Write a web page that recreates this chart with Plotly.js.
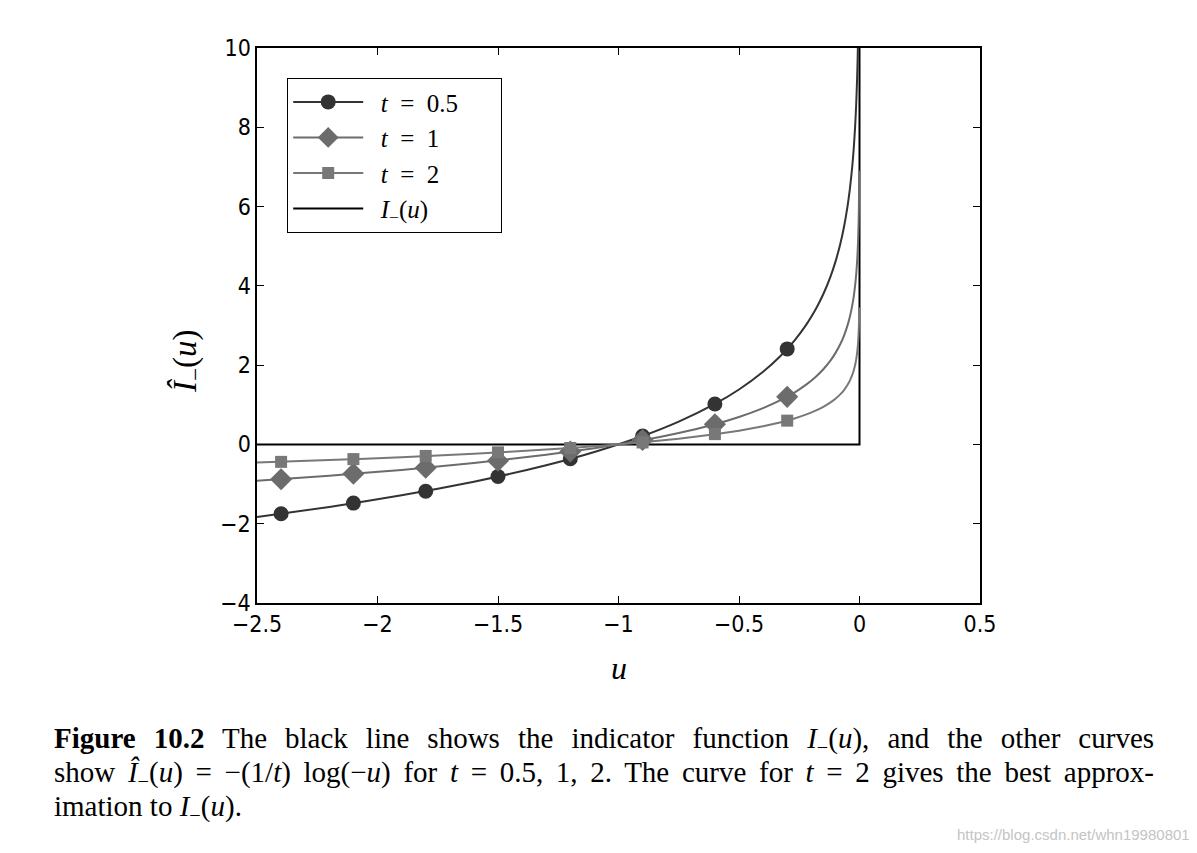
<!DOCTYPE html>
<html>
<head>
<meta charset="utf-8">
<script src="https://cdn.plot.ly/plotly-3.0.1.min.js"></script>
<style>
  html, body { margin: 0; padding: 0; background: #fff; }
  #graph { width: 1197px; height: 853px; }
</style>
</head>
<body>
<div id="graph"></div>
<script>
// sample points along the curves
const uLine = [-2.5, -2.2, -1.9, -1.6, -1.3, -1.1, -0.9, -0.75, -0.6, -0.5, -0.4, -0.33, -0.27, -0.22, -0.18, -0.15, -0.12, -0.1, -0.08, -0.065, -0.05, -0.04, -0.03, -0.024, -0.018, -0.014, -0.01, -0.0075, -0.0055, -0.004, -0.003, -0.002, -0.0015, -0.001];
const lineT05 = [-1.833, -1.577, -1.284, -0.940, -0.525, -0.191, 0.211, 0.575, 1.022, 1.386, 1.833, 2.217, 2.619, 3.028, 3.430, 3.794, 4.241, 4.605, 5.051, 5.466, 5.991, 6.438, 7.013, 7.459, 8.034, 8.537, 9.210, 9.786, 10.405, 11.043, 11.618, 12.429, 13.005, 13.816];
const lineT1 = [-0.916, -0.788, -0.642, -0.470, -0.262, -0.095, 0.105, 0.288, 0.511, 0.693, 0.916, 1.109, 1.309, 1.514, 1.715, 1.897, 2.120, 2.303, 2.526, 2.733, 2.996, 3.219, 3.507, 3.730, 4.017, 4.269, 4.605, 4.893, 5.203, 5.521, 5.809, 6.215, 6.502, 6.908];
const lineT2 = [-0.458, -0.394, -0.321, -0.235, -0.131, -0.048, 0.053, 0.144, 0.255, 0.347, 0.458, 0.554, 0.655, 0.757, 0.857, 0.949, 1.060, 1.151, 1.263, 1.366, 1.498, 1.609, 1.753, 1.865, 2.008, 2.134, 2.303, 2.446, 2.601, 2.760, 2.904, 3.107, 3.251, 3.454];

// marker positions
const uMark = [-2.4, -2.1, -1.8, -1.5, -1.2, -0.9, -0.6, -0.3];
const markT05 = [-1.75, -1.48, -1.18, -0.81, -0.36, 0.21, 1.02, 2.41];
const markT1 = [-0.88, -0.74, -0.59, -0.41, -0.18, 0.11, 0.51, 1.20];
const markT2 = [-0.44, -0.37, -0.29, -0.20, -0.09, 0.05, 0.26, 0.60];

// indicator function I_(u)
const iuX = [-2.5, 0, 0];
const iuY = [0, 0, 10];

const seriesNames = ['\u2002<i>t</i>\u2002=\u20020.5\u2003\u2002', '\u2002<i>t</i>\u2002=\u20021', '\u2002<i>t</i>\u2002=\u20022', '\u2002<i>I</i><sub>−</sub>(<i>u</i>)'];

const serif = '"Liberation Serif", "DejaVu Serif", serif';
const sans = '"DejaVu Sans Condensed", "Liberation Sans Narrow", Roboto, "Liberation Sans", sans-serif';

const series = [
  {line: lineT05, mark: markT05, color: '#333333', symbol: 'circle', size: 15},
  {line: lineT1, mark: markT1, color: '#6c6c6c', symbol: 'diamond', size: 17},
  {line: lineT2, mark: markT2, color: '#787878', symbol: 'square', size: 12}
];

// indicator drawn first so the gray curves sit on top of it
var data = [{
  x: iuX, y: iuY, mode: 'lines', name: seriesNames[3], legendrank: 4,
  line: {color: '#000000', width: 2}
}];
series.forEach((s, i) => {
  data.push({
    x: uLine, y: s.line, mode: 'lines', showlegend: false,
    line: {color: s.color, width: 2, shape: 'spline', smoothing: 0.5}
  });
  data.push({
    x: uMark, y: s.mark, mode: 'markers', showlegend: false,
    marker: {color: s.color, symbol: s.symbol, size: s.size}
  });
  // legend entry only
  data.push({
    x: [null], y: [null], mode: 'lines+markers', name: seriesNames[i], legendrank: i + 1,
    line: {color: s.color, width: 2},
    marker: {color: s.color, symbol: s.symbol, size: s.size}
  });
});

const axisCommon = {
  showgrid: false, zeroline: false, showline: true, mirror: 'ticks',
  linecolor: '#000', linewidth: 1.6, ticks: 'inside', ticklen: 7,
  tickcolor: '#000', tickwidth: 1,
  tickfont: {family: sans, size: 23, color: '#000'}
};

const capX = (52 - 257) / 723;

var layout = {
  width: 1197, height: 853,
  margin: {l: 257, r: 217, t: 48, b: 250},
  paper_bgcolor: '#fff', plot_bgcolor: '#fff',
  xaxis: Object.assign({}, axisCommon, {range: [-2.5, 0.5], dtick: 0.5, tick0: -2.5}),
  yaxis: Object.assign({}, axisCommon, {range: [-4, 10], dtick: 2, tick0: -4}),
  legend: {
    x: 0.0415, y: 0.946, xanchor: 'left', yanchor: 'top',
    bgcolor: '#fff', bordercolor: '#000', borderwidth: 1.2,
    font: {family: serif, size: 25, color: '#000'},
    itemwidth: 70
  },
  annotations: [
    {xref: 'paper', yref: 'paper', x: (187 - 257) / 723, y: (603 - 361) / 555,
     xanchor: 'center', yanchor: 'middle',
     text: '<i>Î</i><sub>−</sub>(<i>u</i>)', textangle: -90, showarrow: false,
     font: {family: serif, size: 33, color: '#000'}},
    {xref: 'paper', yref: 'paper', x: 0.5, y: (603 - 668) / 555,
     xanchor: 'center', yanchor: 'middle',
     text: '<i>u</i>', showarrow: false,
     font: {family: serif, size: 32, color: '#000'}},
    {xref: 'paper', yref: 'paper', x: capX, y: (603 - 740) / 555,
     xanchor: 'left', yanchor: 'middle', align: 'left',
     text: '<b>Figure 10.2</b> The black line shows the indicator function <i>I</i><sub>−</sub>(<i>u</i>), and the other curves',
     showarrow: false, font: {family: serif, size: 29, color: '#000'}},
    {xref: 'paper', yref: 'paper', x: capX, y: (603 - 774) / 555,
     xanchor: 'left', yanchor: 'middle', align: 'left',
     text: 'show <i>Î</i><sub>−</sub>(<i>u</i>) = −(1/<i>t</i>) log(−<i>u</i>) for <i>t</i> = 0.5, 1, 2. The curve for <i>t</i> = 2 gives the best approx-',
     showarrow: false, font: {family: serif, size: 29, color: '#000'}},
    {xref: 'paper', yref: 'paper', x: capX, y: (603 - 808) / 555,
     xanchor: 'left', yanchor: 'middle', align: 'left',
     text: 'imation to <i>I</i><sub>−</sub>(<i>u</i>).',
     showarrow: false, font: {family: serif, size: 29, color: '#000'}},
    {xref: 'paper', yref: 'paper', x: (1192 - 257) / 723, y: (603 - 834) / 555,
     xanchor: 'right', yanchor: 'middle',
     text: 'https://blog.csdn.net/whn19980801', showarrow: false,
     font: {family: '"Liberation Sans", Arial, sans-serif', size: 15, color: '#c4c4c4'}}
  ]
};

// stretch the first two caption lines to the full text width (justified)
const justify = () => {
  const targetWidth = 1100;
  [2, 3].forEach((idx) => {
    const txt = document.querySelector('.annotation[data-index="' + idx + '"] text.annotation-text');
    if (!txt) return;
    const w = txt.getBBox().width;
    const spaces = (txt.textContent.match(/ /g) || []).length;
    if (spaces > 0 && w < targetWidth) {
      txt.style.wordSpacing = ((targetWidth - w) / spaces).toFixed(2) + 'px';
    }
  });
};

Plotly.newPlot('graph', data, layout, {displayModeBar: false, staticPlot: true}).then(justify);
</script>
</body>
</html>
